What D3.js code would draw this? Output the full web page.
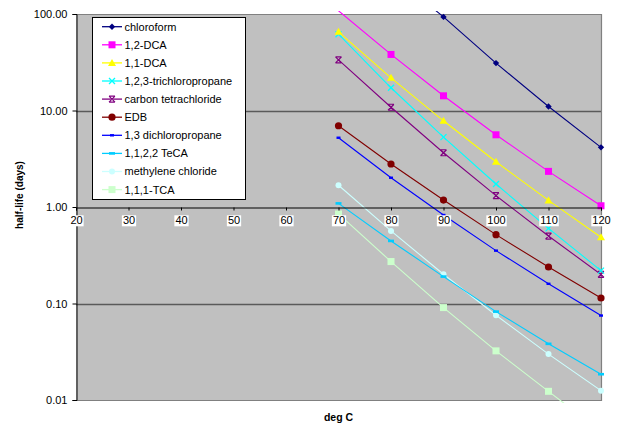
<!DOCTYPE html>
<html><head><meta charset="utf-8">
<script src="https://cdn.jsdelivr.net/npm/d3@7"></script>
<style>
html,body{margin:0;padding:0;background:#fff;}
svg{display:block;font-family:"Liberation Sans",Arial,sans-serif;}
</style></head>
<body><svg id="c" width="617" height="423"></svg>
<script>
const temps = [70, 80, 90, 100, 110, 120];
const xTicks = [20, 30, 40, 50, 60, 70, 80, 90, 100, 110, 120];
const yTicks = [0.01, 0.1, 1, 10, 100];
const seriesNames = ["chloroform","1,2-DCA","1,1-DCA","1,2,3-trichloropropane","carbon tetrachloride","EDB","1,3 dichloropropane","1,1,2,2 TeCA","methylene chloride","1,1,1-TCA"];
const chloroform = [800, 260, 93.3, 31.0, 11.0, 4.15];
const dca12 = [108, 38.1, 14.2, 5.6, 2.34, 1.03];
const dca11 = [65.3, 21.8, 7.82, 2.94, 1.17, 0.486];
const tcp = [61.8, 17.2, 5.3, 1.73, 0.60, 0.219];
const carbonTet = [33.5, 10.8, 3.65, 1.31, 0.50, 0.20];
const edb = [6.95, 2.79, 1.18, 0.517, 0.239, 0.114];
const dcp13 = [5.22, 2.01, 0.826, 0.353, 0.160, 0.075];
const teca = [1.09, 0.445, 0.19, 0.0824, 0.0382, 0.0185];
const methyleneChloride = [1.68, 0.565, 0.201, 0.0756, 0.0299, 0.0125];
const tca111 = [0.847, 0.272, 0.0907, 0.0323, 0.0123, 0.0047];

const seriesValues = [chloroform, dca12, dca11, tcp, carbonTet, edb, dcp13, teca, methyleneChloride, tca111];
const colors = ["#000080","#FF00FF","#FFFF00","#00FFFF","#800080","#800000","#0000FF","#00CCFF","#CCFFFF","#CCFFCC"];
const markers = ["diamond","square","triangle","x","star","circle","dashS","dashL","circleS","square"];

const svg = d3.select("#c");
const L = 76, R = 601, T = 14, B = 400;
const x = d3.scaleLinear().domain([20, 120]).range([L, R]);
const y = d3.scaleLog().domain([0.01, 100]).range([B, T]);

svg.append("rect").attr("x", L).attr("y", T).attr("width", R - L).attr("height", B - T).attr("fill", "#C0C0C0");
svg.append("g").selectAll("line").data([0.1, 10]).join("line")
  .attr("x1", L).attr("x2", R).attr("y1", d => Math.round(y(d)) + 0.5).attr("y2", d => Math.round(y(d)) + 0.5)
  .attr("stroke", "#5a5a5a").attr("stroke-width", 1.3);
svg.append("path").attr("d", `M${L},${T + 0.5}H${R + 0.5}V${B + 0.5}H${L}`).attr("fill", "none").attr("stroke", "#808080").attr("stroke-width", 1.2);

const yAxis = d3.axisLeft(y).tickValues(yTicks).tickFormat(d3.format(".2f")).tickSize(4).tickPadding(5);
const gy = svg.append("g").attr("transform", `translate(${L + 0.5},0)`).call(yAxis);
gy.selectAll("text").attr("font-size", 11).attr("fill", "#000").attr("font-family", "Liberation Sans, Arial, sans-serif");
gy.selectAll("line").attr("stroke", "#000");
gy.select(".domain").attr("stroke", "#000");

svg.append("clipPath").attr("id", "clip").append("rect").attr("x", L - 2).attr("y", 11).attr("width", R - L + 6).attr("height", B - 11 + 3);

const line = d3.line().x((d, i) => x(temps[i])).y(d => y(d));
const plot = svg.append("g").attr("clip-path", "url(#clip)");

function drawMarker(g, type, cx, cy, col) {
  if (type === "diamond") {
    g.append("path").attr("d", `M${cx},${cy-3.2}L${cx+3.2},${cy}L${cx},${cy+3.2}L${cx-3.2},${cy}Z`).attr("fill", col);
  } else if (type === "square") {
    g.append("rect").attr("x", cx - 3.5).attr("y", cy - 3.5).attr("width", 7).attr("height", 7).attr("fill", col);
  } else if (type === "triangle") {
    g.append("path").attr("d", `M${cx},${cy-4}L${cx+4},${cy+3}L${cx-4},${cy+3}Z`).attr("fill", col);
  } else if (type === "x") {
    g.append("path").attr("d", `M${cx-3},${cy-3}L${cx+3},${cy+3}M${cx+3},${cy-3}L${cx-3},${cy+3}`).attr("stroke", col).attr("stroke-width", 1.3);
  } else if (type === "star") {
    g.append("path").attr("d", `M${cx-3},${cy-3}L${cx+3},${cy+3}M${cx+3},${cy-3}L${cx-3},${cy+3}M${cx-3},${cy-3}H${cx+3}M${cx-3},${cy+3}H${cx+3}`).attr("stroke", col).attr("stroke-width", 1.2);
  } else if (type === "circle") {
    g.append("circle").attr("cx", cx).attr("cy", cy).attr("r", 3.6).attr("fill", col);
  } else if (type === "circleS") {
    g.append("circle").attr("cx", cx).attr("cy", cy).attr("r", 3).attr("fill", col);
  } else if (type === "dashS") {
    g.append("rect").attr("x", cx - 2).attr("y", cy - 1.2).attr("width", 4).attr("height", 2.4).attr("fill", col);
  } else if (type === "dashL") {
    g.append("rect").attr("x", cx - 3).attr("y", cy - 1.3).attr("width", 6).attr("height", 2.6).attr("fill", col);
  }
}

for (let s = seriesValues.length - 1; s >= 0; s--) {
  const vals = seriesValues[s];
  plot.append("path").datum(vals).attr("d", line).attr("fill", "none").attr("stroke", colors[s]).attr("stroke-width", 1.1);
  const mg = plot.append("g");
  vals.forEach((v, i) => {
    const py = y(v);
    if (py >= T && py <= B + 1) drawMarker(mg, markers[s], x(temps[i]), py, colors[s]);
  });
}

const xAxis = d3.axisBottom(x).tickValues(xTicks).tickSize(3).tickPadding(6).tickFormat(d3.format("d"));
const gx = svg.append("g").attr("transform", `translate(0,${Math.round(y(1)) + 0.5})`).call(xAxis);
gx.select(".domain").attr("stroke", "#000");
gx.selectAll("line").attr("stroke", "#000");
gx.selectAll("text").attr("font-size", 11).attr("fill", "#000").attr("font-family", "Liberation Sans, Arial, sans-serif");
gx.selectAll(".tick").each(function () {
  const t = d3.select(this).select("text");
  const bb = t.node().getBBox();
  d3.select(this).insert("rect", "text").attr("x", bb.x - 1).attr("y", bb.y + 1).attr("width", bb.width + 2).attr("height", bb.height - 1).attr("fill", "#fff");
});

const lg = svg.append("g");
lg.append("rect").attr("x", 92.5).attr("y", 17.5).attr("width", 153).attr("height", 182).attr("fill", "#fff").attr("stroke", "#000").attr("stroke-width", 1);
seriesNames.forEach((n, i) => {
  const ly = 26.7 + i * 18.1;
  lg.append("line").attr("x1", 102).attr("x2", 122).attr("y1", ly).attr("y2", ly).attr("stroke", colors[i]).attr("stroke-width", 1.3);
  drawMarker(lg, markers[i], 112, ly, colors[i]);
  lg.append("text").attr("x", 124.5).attr("y", ly).attr("dy", "0.36em").attr("font-size", 11).attr("fill", "#000").text(n);
});

svg.append("text").attr("transform", "translate(23,195) rotate(-90)").attr("text-anchor", "middle")
  .attr("font-size", 10).attr("font-weight", "bold").attr("fill", "#000").text("half-life (days)");
svg.append("text").attr("x", 338.5).attr("y", 420.5).attr("text-anchor", "middle")
  .attr("font-size", 10.5).attr("font-weight", "bold").attr("fill", "#000").text("deg C");
</script></body></html>
